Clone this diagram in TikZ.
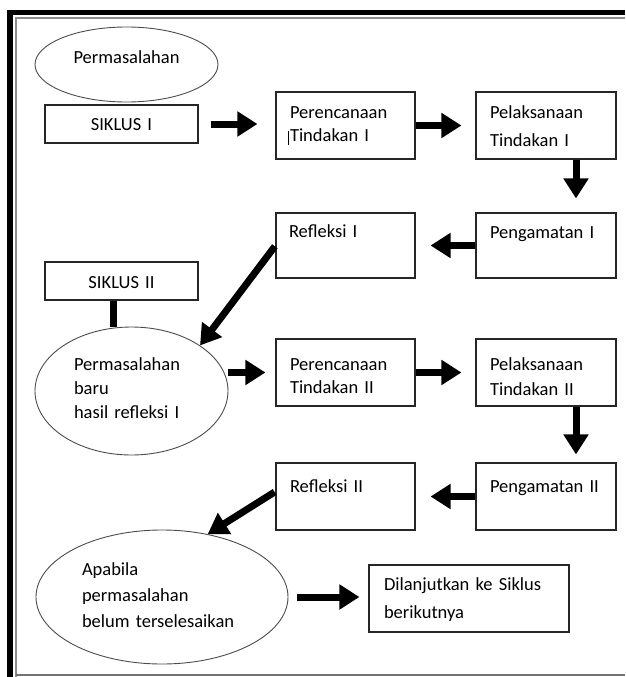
\documentclass[tikz,border=0pt]{standalone}
\usepackage{fontspec}
\setmainfont{Carlito}
\usetikzlibrary{arrows.meta,shapes.geometric}
\begin{document}
\begin{tikzpicture}[x=1pt,y=-1pt,
  box/.style={draw=black!85, line width=1.1pt, rectangle, inner ysep=0pt, align=left,
    font=\fontsize{18.5}{23}\selectfont},
  oval/.style={draw=black!70, line width=0.9pt, ellipse, inner sep=0pt, align=left,
    font=\fontsize{18.5}{24}\selectfont},
  bigarrow/.style={line width=7pt, -{Triangle[length=20pt,width=24pt]}},
  conn/.style={line width=7pt},
]
\useasboundingbox (0,0) rectangle (625,677);

% frame
\draw[line width=5.5pt, line join=miter] (10,677) -- (10,12.5) -- (625,12.5);
\draw[black!45, line width=1.5pt] (16,677) -- (16,18) -- (625,18);
\draw[black!55, line width=2pt] (16,675) -- (625,675);

% ellipses
\node[oval, align=center, minimum width=183pt, minimum height=75pt, text width=129pt,
  text height=9pt, text depth=11pt] (e1) at (126.5,64.5) {Permasalahan};
\node[oval, minimum width=193pt, minimum height=128pt, text width=115pt,
  text height=20pt, text depth=62pt] (e2) at (131.5,391)
  {Permasalahan\\baru\\hasil refleksi I};
\node[oval, minimum width=252pt, minimum height=134pt, text width=160pt,
  text height=20pt, text depth=64pt, font=\fontsize{18.5}{26}\selectfont] (e3) at (162,597)
  {Apabila\\permasalahan\\belum terselesaikan};

% boxes
\node[box, align=center, inner xsep=0pt, text width=153pt, text height=25pt, text depth=13pt]
  (s1) at (121.5,124) {SIKLUS I};
\node[box, inner xsep=14pt, text width=111pt, text height=26pt, text depth=41pt]
  (p1) at (345.5,125.5) {Perencanaan\\Tindakan I};
\node[box, inner xsep=14pt, text width=112pt, text height=26pt, text depth=41pt,
  font=\fontsize{18.5}{28}\selectfont]
  (l1) at (546,125.5) {Pelaksanaan\\Tindakan I};
\node[box, inner xsep=13pt, text width=113pt, text height=24pt, text depth=41pt]
  (r1) at (345.5,245.5) {Refleksi I};
\node[box, inner xsep=14pt, text width=112pt, text height=25pt, text depth=40pt]
  (g1) at (546,245.5) {Pengamatan I};
\node[box, align=center, inner xsep=0pt, text width=153pt, text height=26pt, text depth=12pt]
  (s2) at (121.5,281) {SIKLUS II};
\node[box, inner xsep=14pt, text width=111pt, text height=31pt, text depth=36pt]
  (p2) at (345.5,372.5) {Perencanaan\\Tindakan II};
\node[box, inner xsep=14pt, text width=112pt, text height=31pt, text depth=36pt,
  font=\fontsize{18.5}{25}\selectfont]
  (l2) at (546,372.5) {Pelaksanaan\\Tindakan II};
\node[box, inner xsep=14pt, text width=111pt, text height=29pt, text depth=38pt]
  (r2) at (345.5,496.5) {Refleksi II};
\node[box, inner xsep=14pt, text width=112pt, text height=29pt, text depth=38pt]
  (g2) at (546,496.5) {Pengamatan II};
\node[box, inner xsep=15pt, text width=170pt, text height=25pt, text depth=42pt,
  font=\fontsize{18.5}{28}\selectfont]
  (d) at (469,598.5) {Dilanjutkan ke Siklus\\berikutnya};

% text cursor mark
\draw[line width=0.7pt] ([shift={(13,40)}]p1.north west) -- ([shift={(13,54)}]p1.north west);

% connectors
\draw[bigarrow, shorten <=12pt, shorten >=18pt] (s1.east) -- (s1.east -| p1.west);
\draw[bigarrow, shorten >=14pt] (p1.east) -- (l1.west);
\draw[bigarrow, shorten >=14pt] ([xshift=30pt]l1.south) -- ([xshift=30pt]g1.north);
\draw[bigarrow, shorten >=15pt] (g1.west) -- (r1.east);
\draw[bigarrow, shorten <=1pt] (r1.west) -- (e2.north east);
\draw[conn] ([xshift=-8.5pt]s2.south) -- ([xshift=-8.5pt]s2.south |- e2.north);
\draw[bigarrow, shorten >=10pt] (e2.east |- p2.west) -- (p2.west);
\draw[bigarrow, shorten >=14pt] (p2.east) -- (l2.west);
\draw[bigarrow, shorten >=8pt] ([xshift=30pt]l2.south) -- ([xshift=30pt]g2.north);
\draw[bigarrow, shorten >=15pt] (g2.west) -- (r2.east);
\draw[bigarrow, shorten <=1pt] ([yshift=5pt]r2.west) -- (e3.54);
\draw[bigarrow, shorten <=9pt, shorten >=9pt] (e3.east) -- (e3.east -| d.west);
\end{tikzpicture}
\end{document}
